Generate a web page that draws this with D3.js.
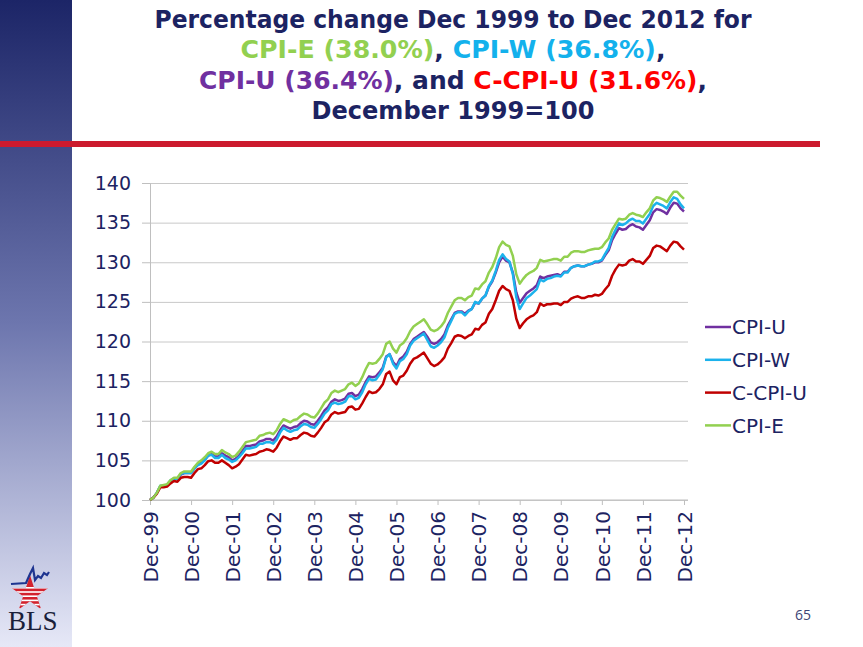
<!DOCTYPE html>
<html>
<head>
<meta charset="utf-8">
<script src="https://cdn.jsdelivr.net/npm/d3@7"></script>
<style>
    body { margin: 0; background: #fff; }
    svg { display: block; font-family: "DejaVu Sans", Verdana, sans-serif; }
    .axis text { fill: #1c2362; }
    .axis path, .axis line { stroke: #bfbfbf; }
    .grid line { stroke: #c8c8c8; }
    .grid path { display: none; }
    .series { fill: none; stroke-width: 2.5; stroke-linejoin: round; }
</style>
</head>
<body>
<div id="chart"></div>
<script>
// Dec 1999 = 100, monthly Dec-99 .. Dec-12
const xTickLabels = ["Dec-99", "Dec-00", "Dec-01", "Dec-02", "Dec-03", "Dec-04", "Dec-05",
    "Dec-06", "Dec-07", "Dec-08", "Dec-09", "Dec-10", "Dec-11", "Dec-12"];
const yTicks = [100, 105, 110, 115, 120, 125, 130, 135, 140];
const seriesNames = ["CPI-U", "CPI-W", "C-CPI-U", "CPI-E"];

const cpiU = [100.0,
    100.3, 100.9, 101.7, 101.8, 101.9, 102.4, 102.7, 102.7, 103.2, 103.4, 103.4, 103.4,
    104.0, 104.5, 104.7, 105.1, 105.6, 105.8, 105.5, 105.5, 105.9, 105.6, 105.4, 105.0,
    105.2, 105.6, 106.2, 106.8, 106.8, 106.9, 107.0, 107.4, 107.5, 107.7, 107.7, 107.5,
    108.0, 108.8, 109.4, 109.2, 109.0, 109.2, 109.3, 109.7, 110.0, 109.9, 109.6, 109.5,
    110.0, 110.6, 111.3, 111.7, 112.4, 112.7, 112.5, 112.6, 112.8, 113.4, 113.5, 113.1,
    113.3, 114.0, 114.9, 115.6, 115.5, 115.6, 116.1, 116.7, 118.1, 118.4, 117.4, 116.9,
    117.8, 118.1, 118.7, 119.7, 120.3, 120.6, 120.9, 121.2, 120.6, 119.9, 119.7, 119.9,
    120.3, 120.9, 122.0, 122.8, 123.6, 123.8, 123.8, 123.5, 123.9, 124.1, 124.9, 124.8,
    125.4, 125.8, 126.9, 127.6, 128.7, 130.0, 130.7, 130.2, 130.0, 128.7, 126.2, 124.9,
    125.5, 126.1, 126.4, 126.7, 127.1, 128.2, 128.0, 128.2, 128.3, 128.4, 128.5, 128.3,
    128.8, 128.8, 129.3, 129.5, 129.6, 129.5, 129.5, 129.7, 129.8, 130.0, 130.0, 130.2,
    130.9, 131.5, 132.8, 133.6, 134.3, 134.1, 134.2, 134.6, 134.8, 134.5, 134.4, 134.1,
    134.7, 135.3, 136.3, 136.7, 136.6, 136.4, 136.1, 136.9, 137.5, 137.4, 136.8, 136.4];

const cpiW = [100.0,
    100.3, 100.9, 101.8, 101.8, 101.9, 102.5, 102.7, 102.6, 103.3, 103.4, 103.4, 103.4,
    104.0, 104.4, 104.6, 105.0, 105.6, 105.7, 105.3, 105.3, 105.7, 105.3, 105.1, 104.8,
    105.0, 105.4, 105.9, 106.5, 106.5, 106.6, 106.7, 107.1, 107.1, 107.3, 107.3, 107.1,
    107.6, 108.5, 109.1, 108.8, 108.6, 108.8, 108.9, 109.3, 109.6, 109.5, 109.2, 109.1,
    109.6, 110.2, 110.9, 111.3, 112.1, 112.3, 112.1, 112.2, 112.4, 113.1, 113.1, 112.7,
    112.9, 113.6, 114.6, 115.3, 115.1, 115.2, 115.8, 116.5, 118.0, 118.4, 117.2, 116.6,
    117.5, 117.8, 118.4, 119.5, 120.1, 120.4, 120.7, 121.0, 120.2, 119.4, 119.2, 119.5,
    119.9, 120.5, 121.7, 122.6, 123.5, 123.7, 123.7, 123.3, 123.8, 124.1, 125.0, 124.8,
    125.4, 125.8, 127.0, 127.7, 128.9, 130.3, 131.0, 130.4, 130.1, 128.5, 125.6, 124.1,
    124.8, 125.5, 125.8, 126.2, 126.6, 127.8, 127.6, 127.9, 128.0, 128.2, 128.3, 128.2,
    128.7, 128.7, 129.3, 129.5, 129.6, 129.5, 129.5, 129.7, 129.8, 130.1, 130.1, 130.3,
    131.1, 131.8, 133.2, 134.1, 134.9, 134.7, 134.9, 135.3, 135.5, 135.2, 135.2, 134.9,
    135.5, 136.1, 137.1, 137.5, 137.3, 137.1, 136.8, 137.6, 138.2, 138.0, 137.3, 136.8];

const cCpiU = [100.0,
    100.3, 100.8, 101.6, 101.6, 101.7, 102.1, 102.4, 102.3, 102.8, 102.9, 102.9, 102.8,
    103.4, 103.9, 104.0, 104.4, 104.9, 105.0, 104.7, 104.7, 105.0, 104.7, 104.4, 104.0,
    104.2, 104.5, 105.1, 105.7, 105.6, 105.7, 105.8, 106.1, 106.2, 106.4, 106.3, 106.1,
    106.6, 107.4, 108.0, 107.8, 107.6, 107.8, 107.8, 108.2, 108.5, 108.4, 108.1, 108.0,
    108.5, 109.1, 109.8, 110.1, 110.8, 111.1, 110.9, 111.0, 111.1, 111.7, 111.8, 111.4,
    111.5, 112.2, 113.0, 113.7, 113.5, 113.6, 114.0, 114.6, 115.9, 116.2, 115.1, 114.6,
    115.5, 115.7, 116.3, 117.2, 117.8, 118.0, 118.3, 118.6, 117.9, 117.2, 116.9, 117.1,
    117.5, 118.0, 119.1, 119.8, 120.6, 120.8, 120.7, 120.4, 120.7, 120.9, 121.6, 121.5,
    122.1, 122.4, 123.5, 124.1, 125.2, 126.4, 127.0, 126.6, 126.4, 125.2, 122.9, 121.7,
    122.3, 122.8, 123.1, 123.3, 123.7, 124.8, 124.5, 124.7, 124.7, 124.8, 124.8, 124.6,
    125.0, 125.0, 125.4, 125.6, 125.7, 125.5, 125.5, 125.7, 125.7, 125.9, 125.8, 126.0,
    126.6, 127.1, 128.3, 129.1, 129.7, 129.6, 129.7, 130.2, 130.4, 130.1, 130.1, 129.8,
    130.3, 130.8, 131.8, 132.1, 132.0, 131.7, 131.4, 132.1, 132.6, 132.5, 132.0, 131.6];

const cpiE = [100.0,
    100.3, 100.9, 101.8, 101.9, 102.0, 102.5, 102.8, 102.8, 103.4, 103.6, 103.6, 103.6,
    104.2, 104.7, 105.0, 105.4, 105.9, 106.1, 105.8, 105.8, 106.3, 106.0, 105.8, 105.4,
    105.6, 106.1, 106.7, 107.3, 107.4, 107.5, 107.6, 108.1, 108.2, 108.4, 108.5, 108.3,
    108.8, 109.6, 110.2, 110.0, 109.8, 110.1, 110.2, 110.6, 110.9, 110.8, 110.5, 110.4,
    110.9, 111.6, 112.3, 112.7, 113.5, 113.8, 113.6, 113.8, 114.0, 114.6, 114.8, 114.4,
    114.7, 115.5, 116.5, 117.3, 117.2, 117.3, 117.8, 118.4, 119.7, 120.0, 119.1, 118.6,
    119.5, 119.8, 120.4, 121.3, 121.9, 122.2, 122.5, 122.8, 122.2, 121.5, 121.3, 121.5,
    121.9, 122.5, 123.6, 124.4, 125.2, 125.5, 125.5, 125.2, 125.6, 125.8, 126.7, 126.6,
    127.2, 127.6, 128.7, 129.4, 130.5, 131.9, 132.6, 132.2, 132.0, 130.8, 128.5, 127.3,
    127.9, 128.4, 128.7, 128.9, 129.3, 130.3, 130.1, 130.2, 130.3, 130.4, 130.4, 130.2,
    130.7, 130.7, 131.2, 131.4, 131.4, 131.3, 131.3, 131.5, 131.6, 131.7, 131.7, 131.9,
    132.5, 133.0, 134.1, 134.8, 135.5, 135.4, 135.5, 136.0, 136.2, 136.0, 135.9, 135.7,
    136.3, 136.8, 137.8, 138.2, 138.1, 137.9, 137.6, 138.3, 138.9, 138.9, 138.4, 138.0];

const colors = {
    navy: "#1c2362",
    "CPI-U": "#7030a0",
    "CPI-W": "#1cb2ec",
    "C-CPI-U": "#c00000",
    "CPI-E": "#92d050"
};

class CpiChart {

    constructor(_config, _series) {
        this.config = {
            parentElement: _config.parentElement,
            containerWidth: 863,
            containerHeight: 647,
            margin: {top: 183, right: 175, bottom: 147, left: 150},
        }
        this.series = _series;
        this.initVis();
    }

    initVis() {
        let vis = this;

        vis.config.width = vis.config.containerWidth - vis.config.margin.left - vis.config.margin.right;
        vis.config.height = vis.config.containerHeight - vis.config.margin.top - vis.config.margin.bottom;

        vis.svg = d3.select(vis.config.parentElement).append("svg")
            .attr("width", vis.config.containerWidth)
            .attr("height", vis.config.containerHeight);

        // slide frame: gradient side bar, red rule, logo, page number
        let grad = vis.svg.append("defs").append("linearGradient")
            .attr("id", "side-gradient")
            .attr("gradientTransform", "rotate(90)");
        grad.append("stop").attr("offset", "0%").attr("stop-color", "#1c2567");
        grad.append("stop").attr("offset", "50%").attr("stop-color", "#6d76ae");
        grad.append("stop").attr("offset", "100%").attr("stop-color", "#e6e8f7");

        vis.svg.append("rect")
            .attr("x", 0).attr("y", 0)
            .attr("width", 72).attr("height", vis.config.containerHeight)
            .attr("fill", "url(#side-gradient)");

        vis.svg.append("rect")
            .attr("x", 0).attr("y", 141)
            .attr("width", 820).attr("height", 6)
            .attr("fill", "#cc1a2e");

        vis.drawTitle();
        vis.drawLogo();

        vis.svg.append("text")
            .attr("x", 803).attr("y", 620)
            .attr("text-anchor", "middle")
            .attr("font-family", "'Open Sans', sans-serif")
            .attr("font-size", 14)
            .attr("fill", "#3d4575")
            .text("65");

        // scales
        vis.xScale = d3.scaleLinear()
            .domain([0, cpiU.length - 1])
            .range([0, vis.config.width - 4]);

        vis.yScale = d3.scaleLinear()
            .domain([yTicks[0], yTicks[yTicks.length - 1]])
            .range([vis.config.height, 0]);

        vis.chart = vis.svg.append("g")
            .attr("transform", `translate(${vis.config.margin.left},${vis.config.margin.top})`);

        vis.renderVis();
    }

    drawTitle() {
        let vis = this;
        const lines = [
            [["Percentage change Dec 1999 to Dec 2012 for", "navy"]],
            [["CPI-E (38.0%)", "CPI-E"], [", ", "navy"], ["CPI-W (36.8%)", "CPI-W"], [",", "navy"]],
            [["CPI-U (36.4%)", "CPI-U"], [", and ", "navy"], ["C-CPI-U (31.6%)", "C-CPI-U"], [",", "navy"]],
            [["December 1999=100", "navy"]]
        ];
        const titleColors = {navy: "#1c2362", "CPI-E": "#92d050", "CPI-W": "#13b1ec",
            "CPI-U": "#7030a0", "C-CPI-U": "#ff0000"};
        const widths = [597, 425, 508, 283];

        lines.forEach((parts, i) => {
            let t = vis.svg.append("text")
                .attr("x", 453)
                .attr("y", 28 + i * 30.3)
                .attr("text-anchor", "middle")
                .attr("font-weight", "bold")
                .attr("font-size", 24)
                .attr("textLength", widths[i])
                .attr("lengthAdjust", "spacingAndGlyphs");
            parts.forEach(p => {
                t.append("tspan").attr("fill", titleColors[p[1]]).text(p[0]);
            });
        });
    }

    drawLogo() {
        let vis = this;
        let logo = vis.svg.append("g").attr("class", "logo");

        let clip = vis.svg.select("defs").append("clipPath").attr("id", "star-clip");
        clip.append("path")
            .attr("transform", "translate(30,594)")
            .attr("d", d3.symbol(d3.symbolStar, 400)());

        logo.append("path")
            .attr("transform", "translate(30,594)")
            .attr("d", d3.symbol(d3.symbolStar, 400)())
            .attr("fill", "#d3222e");

        let stripes = logo.append("g").attr("clip-path", "url(#star-clip)");
        d3.range(587, 612, 4.2).forEach(y => {
            stripes.append("rect")
                .attr("x", 5).attr("y", y)
                .attr("width", 50).attr("height", 1.6)
                .attr("fill", "#fff");
        });

        logo.append("path")
            .attr("d", "M11,584 L26,583 L30,574 L33,568 L35,580 L38,576 L41,578 L44,573 L47,575 L49,572")
            .attr("fill", "none")
            .attr("stroke", "#1f3590")
            .attr("stroke-width", 2.2);

        logo.append("text")
            .attr("x", 8).attr("y", 630)
            .attr("font-family", "'Liberation Serif', 'Times New Roman', serif")
            .attr("font-size", 27)
            .attr("fill", "#1a1f3a")
            .text("BLS");
    }

    renderVis() {
        let vis = this;

        // horizontal gridlines
        vis.chart.append("g")
            .attr("class", "grid")
            .call(d3.axisLeft(vis.yScale).tickValues(yTicks).tickSize(-vis.config.width).tickFormat(""));

        // y axis
        let yAxisG = vis.chart.append("g")
            .attr("class", "axis y-axis")
            .call(d3.axisLeft(vis.yScale).tickValues(yTicks).tickSize(8).tickPadding(11).tickSizeOuter(0));
        yAxisG.selectAll("text").attr("font-size", 19).attr("font-family", "'DejaVu Sans', sans-serif");

        // x axis, a tick each December
        let xAxisG = vis.chart.append("g")
            .attr("class", "axis x-axis")
            .attr("transform", `translate(0,${vis.config.height})`)
            .call(d3.axisBottom(vis.xScale)
                .tickValues(d3.range(0, cpiU.length, 12))
                .tickFormat((d, i) => xTickLabels[i])
                .tickSize(5)
                .tickSizeOuter(0));
        xAxisG.select(".domain").attr("d", `M0,0H${vis.config.width}`);
        xAxisG.selectAll("text")
            .attr("font-size", 20)
            .attr("font-family", "'DejaVu Sans', sans-serif")
            .attr("transform", "rotate(-90)")
            .attr("x", -11)
            .attr("y", 0)
            .attr("dy", "0.36em")
            .style("text-anchor", "end");

        const line = d3.line()
            .x((d, i) => vis.xScale(i))
            .y(d => vis.yScale(d));

        vis.chart.selectAll(".series")
            .data(vis.series)
            .join("path")
            .attr("class", "series")
            .attr("stroke", d => colors[d.name])
            .attr("d", d => line(d.values));

        // legend
        let legend = vis.svg.append("g")
            .attr("transform", "translate(705,327)");
        let item = legend.selectAll("g")
            .data(vis.series)
            .join("g")
            .attr("transform", (d, i) => `translate(0,${i * 32.8})`);
        item.append("line")
            .attr("x1", 0).attr("x2", 26)
            .attr("stroke", d => colors[d.name])
            .attr("stroke-width", 2.5);
        item.append("text")
            .attr("x", 27)
            .attr("dy", "0.36em")
            .attr("font-size", 20)
            .attr("fill", colors.navy)
            .text(d => d.name);
    }
}

const series = [
    {name: seriesNames[0], values: cpiU},
    {name: seriesNames[1], values: cpiW},
    {name: seriesNames[2], values: cCpiU},
    {name: seriesNames[3], values: cpiE}
];

new CpiChart({parentElement: "#chart"}, series);
</script>
</body>
</html>
